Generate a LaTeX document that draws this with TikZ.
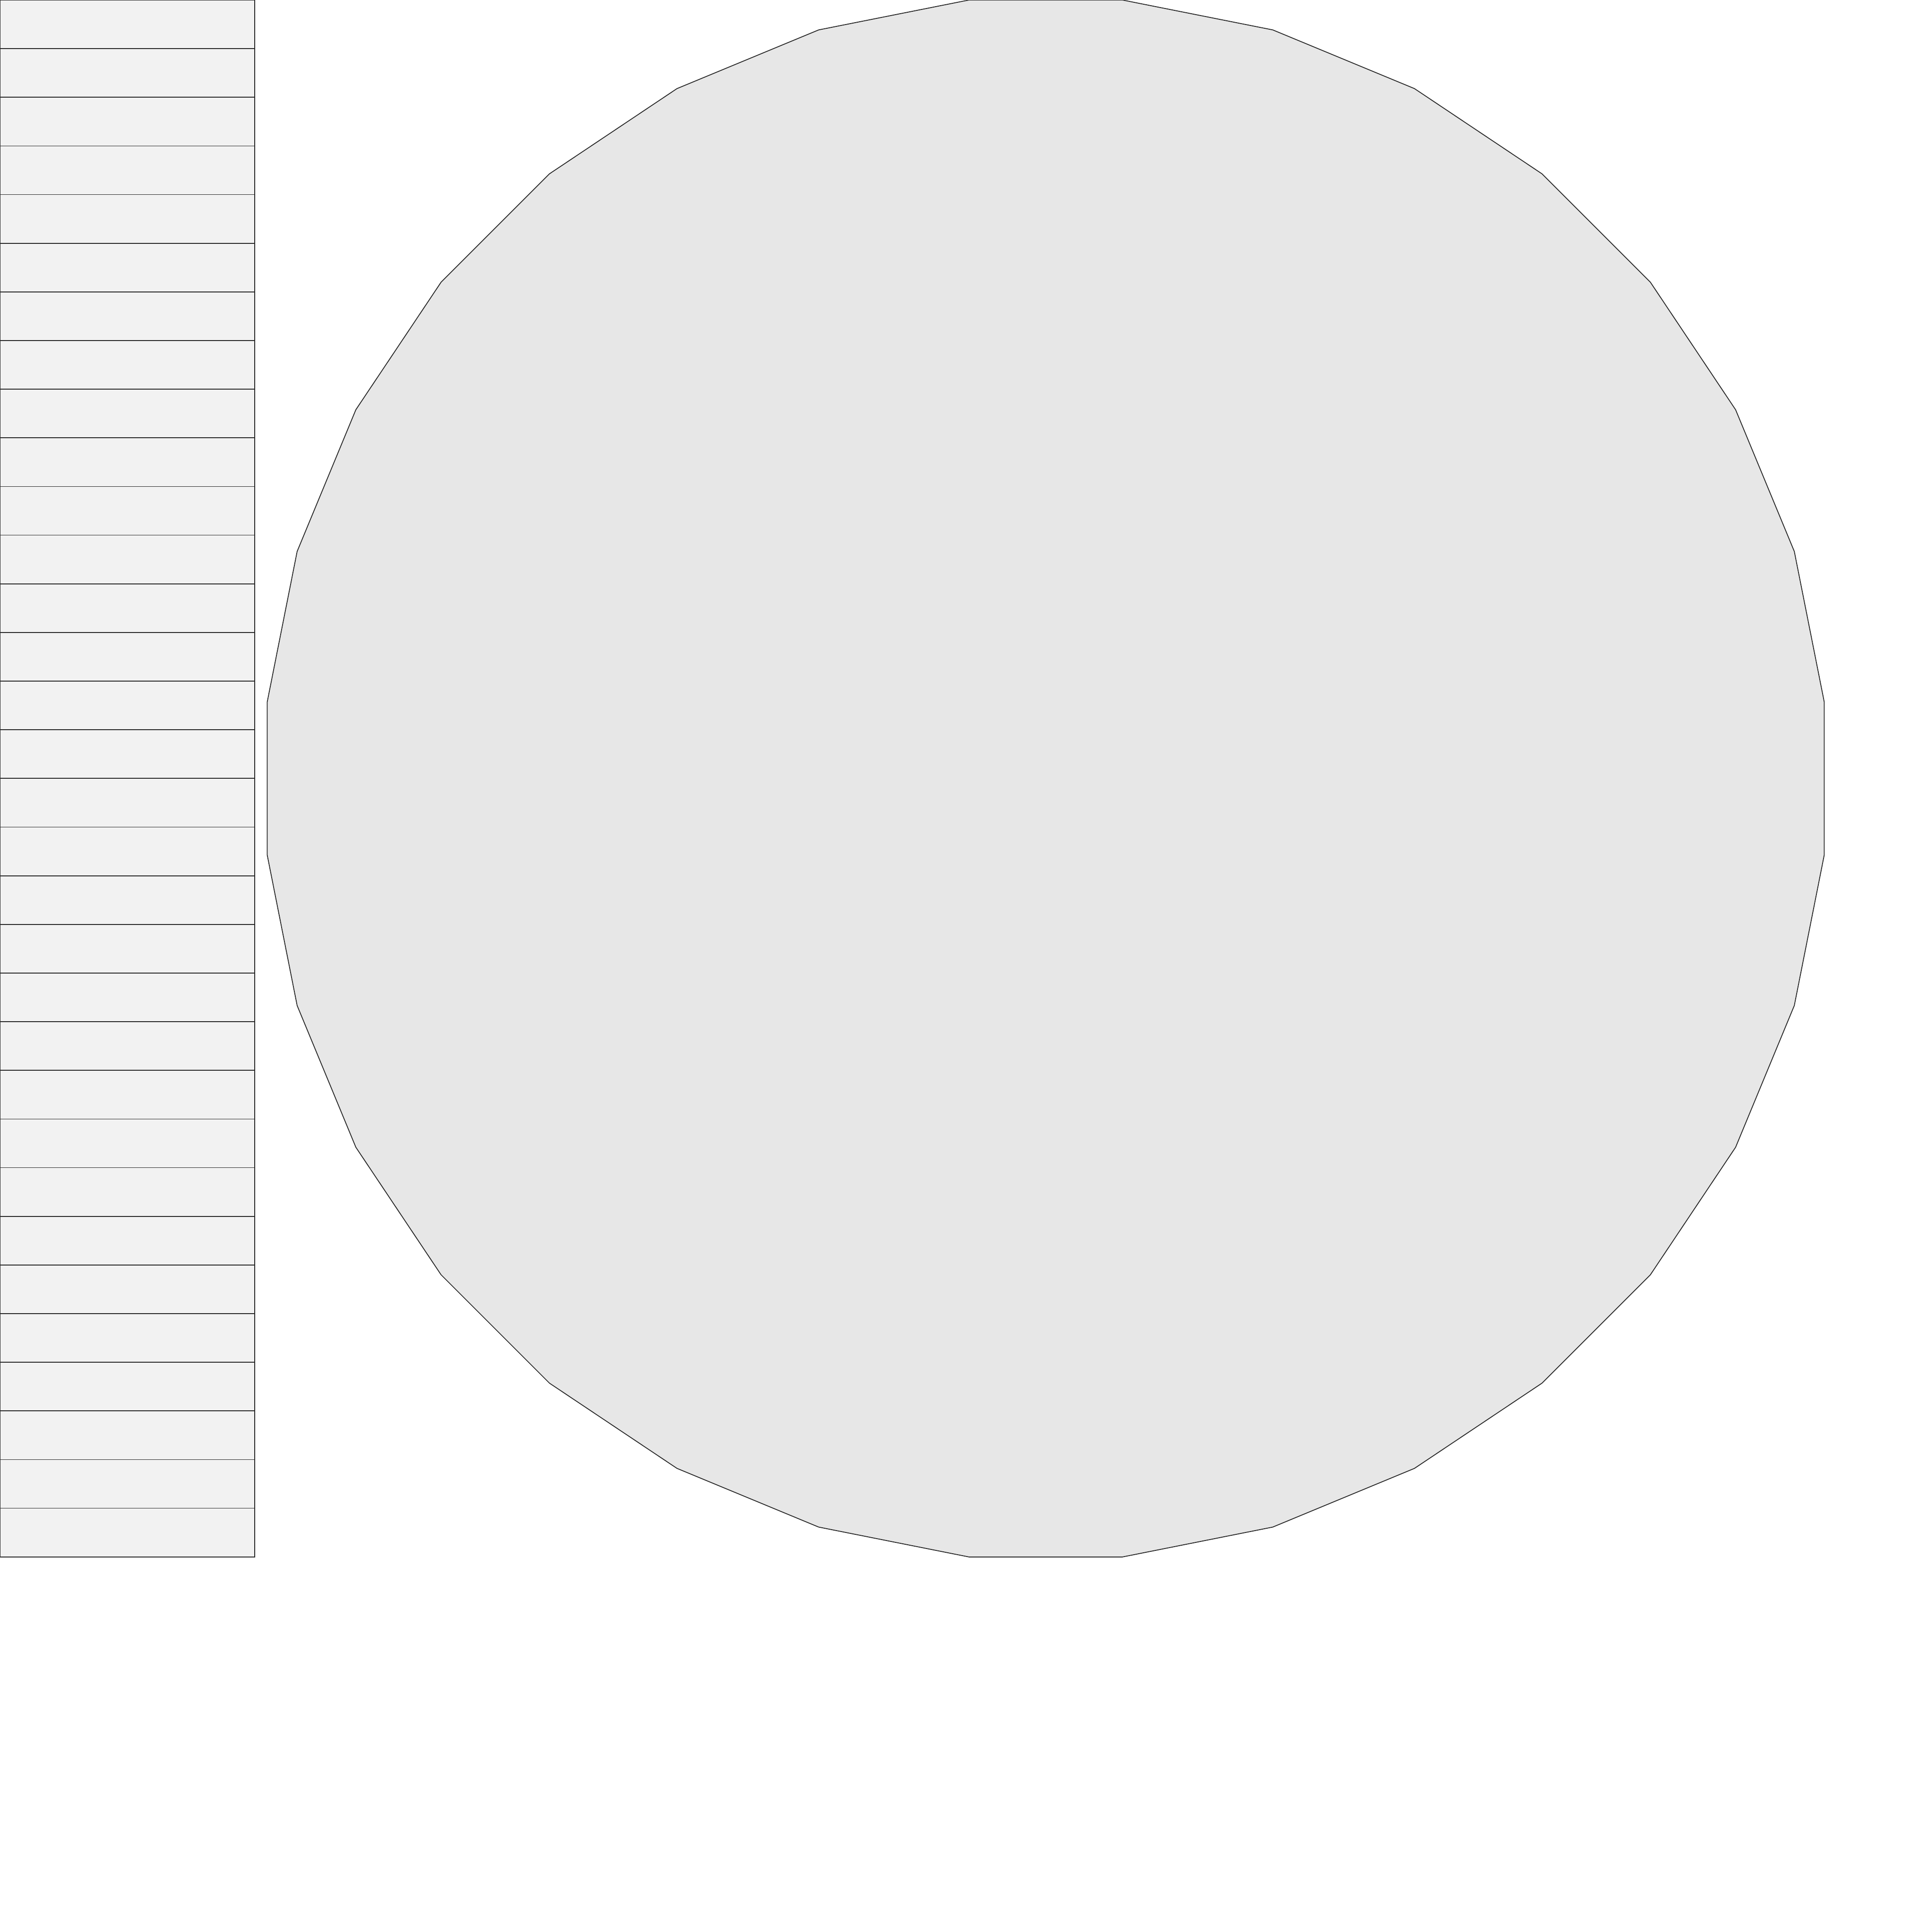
\documentclass[tikz,border=0pt]{standalone}
\usepackage{tikz}

\definecolor{cellfill}{HTML}{F2F2F2}
\definecolor{discfill}{HTML}{E7E7E7}
\definecolor{edgegray}{HTML}{262626}

\begin{document}
\begin{tikzpicture}

% Sizes
\def\Top{40.96};
\def\W{5.40};
\def\H{1.0315};
\def\CX{22.17};
\def\CY{24.455};
\def\R{16.585};

\useasboundingbox (0,0) rectangle (40.96,40.96);

% Column of cells
\foreach \i in {0,...,31}
{\draw[edgegray,fill=cellfill,line width=0.5pt] (0,{\Top-\i*\H}) rectangle (\W,{\Top-(\i+1)*\H});}

% 32-gon
\draw[edgegray,fill=discfill,line width=0.5pt] ({\CX+\R*cos(5.625)},{\CY+\R*sin(5.625)})
  \foreach \k in {1,...,31} {-- ({\CX+\R*cos(5.625+\k*11.25)},{\CY+\R*sin(5.625+\k*11.25)})} -- cycle;
\end{tikzpicture}
\end{document}
